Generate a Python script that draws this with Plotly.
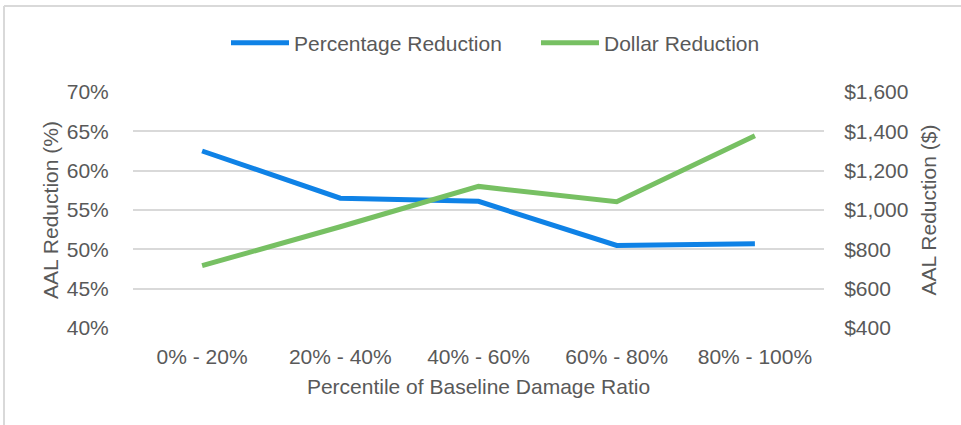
import plotly.graph_objects as go

# Percentile buckets of the baseline damage ratio
categories = ["0% - 20%", "20% - 40%", "40% - 60%", "60% - 80%", "80% - 100%"]

# Average annual loss reduction, as a share and in dollars
pct_reduction = [0.625, 0.565, 0.561, 0.505, 0.507]
dollar_reduction = [717, 915, 1120, 1042, 1378]

left_ticks = [0.40, 0.45, 0.50, 0.55, 0.60, 0.65, 0.70]
right_ticks = [400, 600, 800, 1000, 1200, 1400, 1600]

FONT = "Arial, Liberation Sans, sans-serif"
GREY = "#595959"
GRID = "#d9d9d9"
FS = 21
NBSP = "\u00a0"

fig = go.Figure()
fig.add_trace(go.Scatter(
    x=categories, y=pct_reduction, name="Percentage Reduction" + NBSP * 5,
    mode="lines", line=dict(color="#0f82e6", width=5), yaxis="y"))
fig.add_trace(go.Scatter(
    x=categories, y=dollar_reduction, name="Dollar Reduction",
    mode="lines", line=dict(color="#77c063", width=5), yaxis="y2"))

L, R, T, B = 133, 137, 92, 97
W, H = 961, 425
pw, ph = W - L - R, H - T - B

def px_to_paper(px, py):
    return (px - L) / pw, (H - B - py) / ph

# Outer frame (top and left edges)
x0, y0 = px_to_paper(4, 425)
x1, y1 = px_to_paper(4, 6)
x2, _ = px_to_paper(961, 6)
fig.add_shape(type="line", xref="paper", yref="paper", x0=x0, y0=y0, x1=x1, y1=y1,
              line=dict(color=GRID, width=2))
fig.add_shape(type="line", xref="paper", yref="paper", x0=x1, y0=y1, x1=x2, y1=y1,
              line=dict(color=GRID, width=2))

INVIS = "rgba(0,0,0,0)"

fig.update_layout(
    width=W, height=H,
    margin=dict(l=L, r=R, t=T, b=B),
    paper_bgcolor="white", plot_bgcolor="white",
    font=dict(family=FONT, size=FS, color=GREY),
    showlegend=True,
    legend=dict(orientation="h", x=px_to_paper(226, 0)[0], xanchor="left",
                y=px_to_paper(0, 43)[1], yanchor="middle",
                font=dict(size=FS, color=GREY), itemwidth=58,
                bgcolor=INVIS),
    xaxis=dict(
        range=[-0.5, 4.5],
        showgrid=False, zeroline=False, showline=False,
        ticks="outside", ticklen=10, tickcolor=INVIS,
        tickfont=dict(size=FS, color=GREY),
        title=dict(text="Percentile of Baseline Damage Ratio",
                   font=dict(size=FS, color=GREY), standoff=12),
    ),
    yaxis=dict(
        range=[0.40, 0.70], tickvals=left_ticks, tickformat=".0%",
        showgrid=True, gridcolor=GRID, gridwidth=1.5, zeroline=False,
        showline=False, ticks="outside", ticklen=19, tickcolor=INVIS,
        tickfont=dict(size=FS, color=GREY),
        title=dict(text="AAL Reduction (%)", font=dict(size=FS, color=GREY), standoff=2),
    ),
    yaxis2=dict(
        range=[400, 1600], tickvals=right_ticks,
        ticktext=[f"${v:,}" for v in right_ticks],
        overlaying="y", side="right", showgrid=False, zeroline=False,
        showline=False, ticks="outside", ticklen=15, tickcolor=INVIS,
        tickfont=dict(size=FS, color=GREY),
        title=dict(text="AAL Reduction ($)", font=dict(size=FS, color=GREY), standoff=13),
    ),
)

fig.write_html("out.html")
